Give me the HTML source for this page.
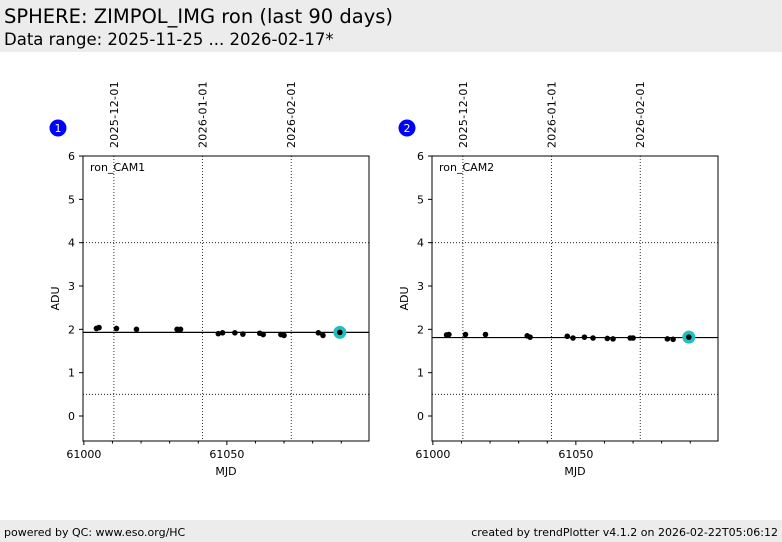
<!DOCTYPE html>
<html><head><meta charset="utf-8"><style>
body{margin:0;width:782px;height:542px;background:#fff;font-family:"DejaVu Sans","Liberation Sans",sans-serif;overflow:hidden;position:relative}
.hdr{position:absolute;left:0;top:0;width:782px;height:52px;background:#ececec}
.ftr{position:absolute;left:0;top:520px;width:782px;height:22px;background:#ececec;font-size:11px}
</style></head><body>
<div class="hdr">
<div style="position:absolute;left:4px;top:5px;font-size:19.5px">SPHERE: ZIMPOL_IMG ron (last 90 days)</div>
<div style="position:absolute;left:4px;top:30px;font-size:16.5px">Data range: 2025-11-25 ... 2026-02-17*</div>
</div>
<div class="ftr">
<span style="position:absolute;left:4px;top:6px">powered by QC: www.eso.org/HC</span>
<span style="position:absolute;right:4px;top:6px">created by trendPlotter v4.1.2 on 2026-02-22T05:06:12</span>
</div>
<svg id="svg" width="782" height="542" style="position:absolute;left:0;top:0"></svg>
<script>
const mjd1=[61004.4,61005.3,61011.4,61018.4,61032.6,61033.8,61047,61048.5,61052.8,61055.6,61061.5,61062.7,61068.9,61070,61082,61083.6,61089.5];
const val1=[2.02,2.04,2.02,2.0,2.0,2.0,1.90,1.92,1.92,1.89,1.91,1.88,1.88,1.86,1.92,1.86,1.93];
const mjd2=[61004.8,61005.6,61011.4,61018.4,61033,61034,61047,61049,61053,61056,61061,61063,61069,61070,61082,61084,61089.5];
const val2=[1.87,1.88,1.88,1.88,1.85,1.82,1.84,1.80,1.82,1.80,1.79,1.78,1.80,1.80,1.78,1.77,1.82];
const ref1=1.93, ref2=1.81;
const limits=[0.5,4.0];
const yTicks=[0,1,2,3,4,5,6];
const xMajor=[61000,61050];
const dateLabels=['2025-12-01','2026-01-01','2026-02-01'];
const dateMjd=[61010.5,61041.5,61072.5];
const svg=document.getElementById('svg');const NS='http://www.w3.org/2000/svg';
function mk(t,a,p){const e=document.createElementNS(NS,t);for(const k in a)e.setAttribute(k,a[k]);(p||svg).appendChild(e);return e;}
function panel(ox,num,name,mjd,val,ref){
 const L=ox,R=ox+286,T=156,B=441;
 const x=m=>L+(m-60999.7)/100*286;
 const y=v=>416-v*43.33;
 const g=mk('g',{});
 
 
 limits.forEach(v=>{const l=mk('line',{x1:L,x2:R,y1:y(v),y2:y(v),stroke:'#000','stroke-width':0.8,'stroke-dasharray':'1,2'},g);});
 dateMjd.forEach((m,i)=>{const l=mk('line',{x1:x(m),x2:x(m),y1:T,y2:B,stroke:'#000','stroke-width':0.8,'stroke-dasharray':'1,2'},g);
  const t=mk('text',{x:0,y:0,transform:`translate(${x(m)+4},148) rotate(-90)`,'font-size':11,'letter-spacing':'0.3'},g);t.textContent=dateLabels[i];});
 const rl=mk('line',{x1:L,x2:R,y1:y(ref),y2:y(ref),stroke:'#000','stroke-width':1.2},g);
 mjd.forEach((m,i)=>{const last=i===mjd.length-1;
  if(last){const h=mk('circle',{cx:x(m),cy:y(val[i]),r:6.5,fill:'#20c0c0'},g);}
  const c=mk('circle',{cx:x(m),cy:y(val[i]),r:2.8,fill:'#000'},g);});
 const fr=mk('rect',{x:L,y:T,width:R-L,height:B-T,fill:'none',stroke:'#000','stroke-width':1},g);
 yTicks.forEach(v=>{mk('line',{x1:L-4,x2:L,y1:y(v),y2:y(v),stroke:'#000'},g);const t=mk('text',{x:L-8,y:y(v)+4,'font-size':11,'text-anchor':'end'},g);t.textContent=v;});
 for(let m=61000;m<=61090;m+=10){mk('line',{x1:x(m),x2:x(m),y1:B,y2:B+(m%50===0?4:2.5),stroke:'#000'},g);}
 xMajor.forEach(m=>{const t=mk('text',{x:x(m),y:B+17,'font-size':11,'text-anchor':'middle'},g);t.textContent=m;});
 const xt=mk('text',{x:(L+R)/2,y:B+34,'font-size':11,'text-anchor':'middle'},g);xt.textContent='MJD';
 const yt=mk('text',{x:0,y:0,transform:`translate(${L-24},${(T+B)/2}) rotate(-90)`,'font-size':11,'text-anchor':'middle'},g);yt.textContent='ADU';
 const nt=mk('text',{x:L+7,y:T+15,'font-size':11},g);nt.textContent=name;
 const bc=mk('circle',{cx:L-25,cy:128,r:8.5,fill:'#0000ff'},g);
 const bt=mk('text',{x:L-25,y:132,'font-size':11,'text-anchor':'middle',fill:'#ffffcc'},g);bt.textContent=num;
}
panel(83,1,'ron_CAM1',mjd1,val1,ref1);
panel(432,2,'ron_CAM2',mjd2,val2,ref2);
</script>
</body></html>
